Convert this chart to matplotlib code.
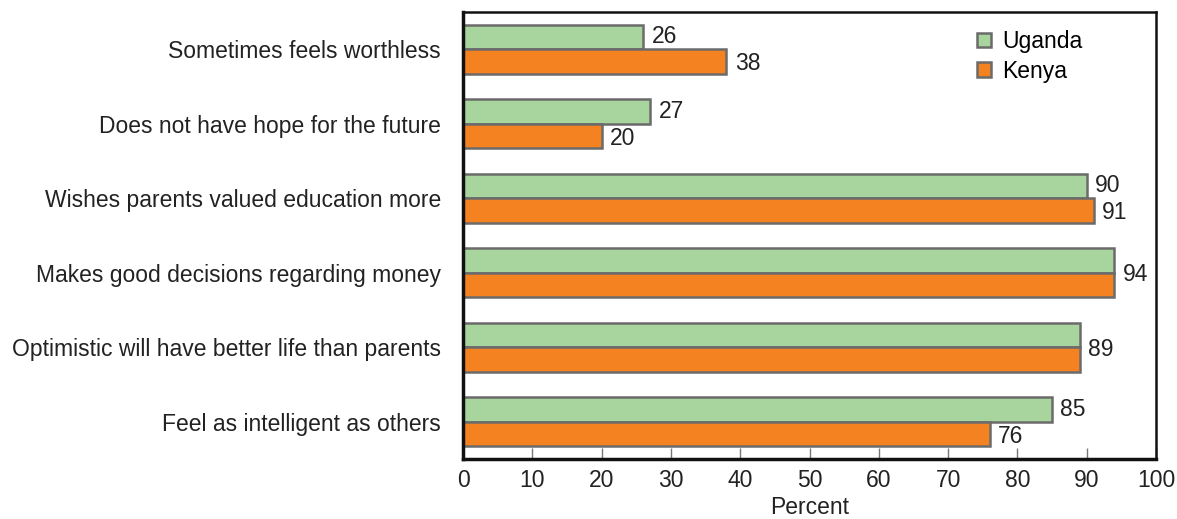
import numpy as np
import matplotlib
matplotlib.use('Agg')
import matplotlib.pyplot as plt
from matplotlib.patches import Patch

plt.rcParams['font.family'] = ['Liberation Sans', 'DejaVu Sans']

categories = ['Sometimes feels worthless',
              'Does not have hope for the future',
              'Wishes parents valued education more',
              'Makes good decisions regarding money',
              'Optimistic will have better life than parents',
              'Feel as intelligent as others']
uganda = [26, 27, 90, 94, 89, 85]
kenya = [38, 20, 91, 94, 89, 76]
series_names = ['Uganda', 'Kenya']

green = '#a8d59e'
orange = '#f58220'
edge = '#6b6b6b'
txt = '#222222'
fs = 16.5

fig = plt.figure(figsize=(11.77, 5.19), dpi=100)
ax = fig.add_axes([0.3934, 0.1156, 0.5888, 0.8613])

y = np.arange(len(categories))
h = 0.33
ax.barh(y - h / 2, uganda, h, color=green, edgecolor=edge, linewidth=1.8)
ax.barh(y + h / 2, kenya, h, color=orange, edgecolor=edge, linewidth=1.8)

# value labels; when both countries share the value, print it once between the bars
for i in range(len(categories)):
    if uganda[i] == kenya[i]:
        ax.text(uganda[i] + 1.2, y[i] + 0.03, str(uganda[i]), va='center', ha='left', fontsize=fs, color=txt)
    else:
        ax.text(uganda[i] + 1.2, y[i] - h / 2, str(uganda[i]), va='center', ha='left', fontsize=fs, color=txt)
        ax.text(kenya[i] + 1.2, y[i] + h / 2 + 0.03, str(kenya[i]), va='center', ha='left', fontsize=fs, color=txt)

ax.set_ylim(len(categories) - 0.5, -0.5)
ax.set_xlim(0, 100)
ax.set_yticks(y)
ax.set_yticklabels(categories, fontsize=fs, color=txt)
ax.tick_params(axis='y', length=0, pad=16)
ax.set_xticks(np.arange(0, 101, 10))
ax.tick_params(axis='x', direction='in', length=8, color='#777777', width=1,
               labelsize=fs, labelcolor=txt, pad=7)
ax.set_xlabel('Percent', fontsize=fs, color=txt, labelpad=3)

ax.spines['left'].set_linewidth(2.5)
ax.spines['bottom'].set_linewidth(2.5)
ax.spines['top'].set_linewidth(1.8)
ax.spines['right'].set_linewidth(1.8)
for s in ax.spines.values():
    s.set_color('#111111')

handles = [Patch(facecolor=green, edgecolor=edge, linewidth=1.8),
           Patch(facecolor=orange, edgecolor=edge, linewidth=1.8)]
ax.legend(handles, series_names, loc='upper left', bbox_to_anchor=(0.742, 0.96),
          frameon=False, fontsize=fs, handlelength=0.6, handleheight=0.6,
          handletextpad=0.5, labelspacing=0.3, borderpad=0, borderaxespad=0)

fig.savefig('out.png', dpi=100)
